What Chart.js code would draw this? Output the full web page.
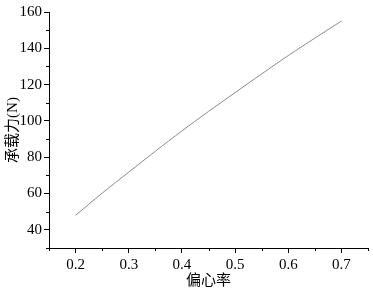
<!DOCTYPE html>
<html>
<head>
<meta charset="utf-8">
<script src="https://cdn.jsdelivr.net/npm/chart.js@4.4.0/dist/chart.umd.min.js"></script>
<style>
  html, body { margin: 0; padding: 0; background: #fff; }
  #wrap { width: 373px; height: 294px; }
</style>
</head>
<body>
<div id="wrap"><canvas id="c" width="373" height="294"></canvas></div>
<script>
// eccentricity vs bearing capacity
const eccentricity = [0.2, 0.25, 0.3, 0.35, 0.4, 0.45, 0.5, 0.55, 0.6, 0.65, 0.7];
const capacity = [48, 60.2, 71.8, 83.3, 94.5, 105.2, 115.6, 125.9, 136, 145.6, 155];
const xTicks = [0.2, 0.3, 0.4, 0.5, 0.6, 0.7];
const xMinorTicks = [0.15, 0.25, 0.35, 0.45, 0.55, 0.65, 0.75];
const yTicks = [40, 60, 80, 100, 120, 140, 160];
const yMinorTicks = [30, 50, 70, 90, 110, 130, 150];

const FONT = '"Liberation Serif", "Noto Sans CJK SC", serif';

// short minor ticks drawn off the scales
const minorTicks = {
  id: 'minorTicks',
  afterDraw(chart) {
    const ctx = chart.ctx;
    const xs = chart.scales.x, ys = chart.scales.y;
    ctx.save();
    ctx.strokeStyle = '#000';
    ctx.lineWidth = 1;
    ctx.beginPath();
    xMinorTicks.forEach(v => {
      const px = Math.round(xs.getPixelForValue(v)) + 0.5;
      ctx.moveTo(px, xs.top);
      ctx.lineTo(px, xs.top + 3);
    });
    yMinorTicks.forEach(v => {
      const py = Math.round(ys.getPixelForValue(v)) + 0.5;
      ctx.moveTo(ys.right, py);
      ctx.lineTo(ys.right - 3, py);
    });
    ctx.stroke();
    ctx.restore();
  }
};

new Chart(document.getElementById('c'), {
  type: 'line',
  data: {
    datasets: [{
      data: eccentricity.map((x, i) => ({ x: x, y: capacity[i] })),
      borderColor: '#8a8a8a',
      borderWidth: 1,
      pointRadius: 0,
      tension: 0.3,
      fill: false
    }]
  },
  options: {
    responsive: false,
    animation: false,
    layout: { padding: { top: 12, right: 5, left: 4, bottom: 4 } },
    plugins: { legend: { display: false }, tooltip: { enabled: false } },
    scales: {
      x: {
        type: 'linear',
        min: 0.15,
        max: 0.75,
        afterBuildTicks: s => { s.ticks = xTicks.map(v => ({ value: v })); },
        afterFit: s => { s.height = 42; },
        grid: { drawOnChartArea: false, tickLength: 5, color: '#000' },
        border: { color: '#000', width: 1 },
        ticks: { color: '#000', font: { family: FONT, size: 15 }, padding: 3,
                 maxRotation: 0, callback: v => v.toFixed(1) },
        title: { display: true, text: '偏心率', color: '#000',
                 font: { family: FONT, size: 15 }, padding: { top: 2, bottom: 0 } }
      },
      y: {
        min: 30,
        max: 160,
        afterBuildTicks: s => { s.ticks = yTicks.map(v => ({ value: v })); },
        afterFit: s => { s.width = 45; },
        grid: { drawOnChartArea: false, tickLength: 5, color: '#000' },
        border: { color: '#000', width: 1 },
        ticks: { color: '#000', font: { family: FONT, size: 15 }, padding: 2 },
        title: { display: true, text: '承载力(N)', color: '#000',
                 font: { family: FONT, size: 15 }, padding: { top: 0, bottom: 0 } }
      }
    }
  },
  plugins: [minorTicks]
});
</script>
</body>
</html>
